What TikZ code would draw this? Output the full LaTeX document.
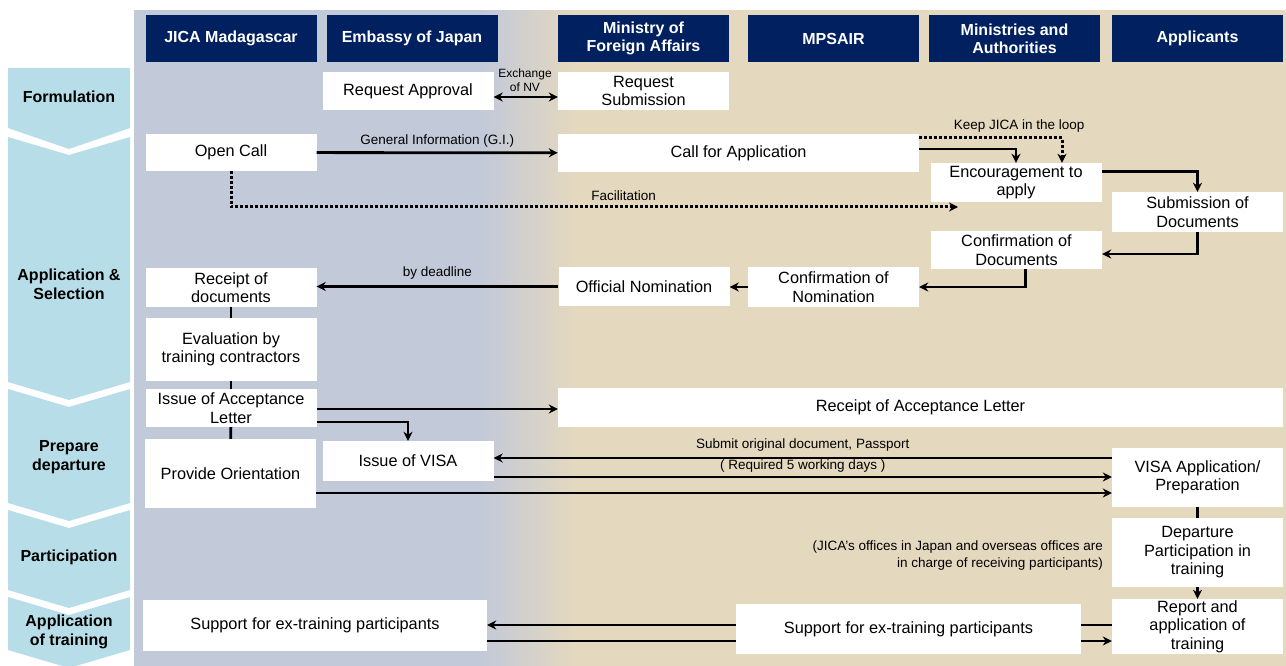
\documentclass[tikz,border=0pt]{standalone}
\usepackage{fontspec}
\setmainfont{Liberation Sans}
\usetikzlibrary{calc,arrows.meta,positioning}

\definecolor{headblue}{RGB}{0,32,96}
\definecolor{phasecyan}{RGB}{183,222,232}
\definecolor{laneblue}{RGB}{194,201,217}
\definecolor{lanetan}{RGB}{228,216,191}

\begin{document}
\begin{tikzpicture}[x=1pt,y=-1pt,inner sep=0pt,>={Stealth[length=9pt,width=9pt]}]
  % Styles
  \tikzset{head/.style={fill=headblue,text=white,font=\bfseries\fontsize{16}{18}\selectfont,align=center,minimum width=171,minimum height=47},
           box/.style={fill=white,font=\fontsize{16.3}{18.5}\selectfont,align=center,minimum width=171,minimum height=38},
           phase/.style={font=\bfseries\fontsize{16}{19}\selectfont,align=center},
           note/.style={font=\fontsize{13.5}{17}\selectfont},
           flow/.style={->,line width=2.8pt},
           link/.style={line width=2.8pt},
           hint/.style={->,line width=3pt,dash pattern=on 2.6pt off 2.4pt}}

  \useasboundingbox (0,0) rectangle (1286,666);

  % Lanes (background), blended by thin strips
  \fill[laneblue] (134,10) rectangle (481,666);
  \foreach \i in {0,...,47}
    \fill[lanetan!\the\numexpr\i*100/47\relax!laneblue] (480+2*\i,10) rectangle (482.6+2*\i,666);
  \fill[lanetan] (575,10) rectangle (1286,666);

  % Phase chevrons
  \fill[phasecyan] (8,68) -- (130,68) -- (130,128) -- (69,149) -- (8,128) -- cycle;
  \foreach \top/\bot in {137/382,389/503,510/590,597/650}
    \fill[phasecyan] (8,\top) -- (69,\top+18) -- (130,\top) -- (130,\bot) -- (69,\bot+18) -- (8,\bot) -- cycle;
  \node[phase] (formulation) at (69,97) {Formulation};
  \node[phase] (selection) at (69,284) {Application \&\\Selection};
  \node[phase] (prepare) at (69,457) {Prepare\\departure};
  \node[phase] (participation) at (69,557) {Participation};
  \node[phase] (applytraining) at (69,632) {Application\\of training};

  % Headers
  \node[head] (jica) at (231,38.5) {JICA Madagascar};
  \node[head] (embassy) at (412,38.5) {Embassy of Japan};
  \node[head] (mofa) at (643.5,38.5) {Ministry of\\Foreign Affairs};
  \node[head] (mpsair) at (833.5,38.5) {MPSAIR};
  \node[head] (ministries) at (1014.5,38.5) {Ministries and\\Authorities};
  \node[head] (applicants) at (1197.5,38.5) {Applicants};

  % Steps
  \node[box] (reqapp) at (408,91) {Request Approval};
  \node[box] (reqsub) at (643.5,91) {Request\\Submission};
  \node[box,minimum height=37] (opencall) at (231,152.5) {Open Call};
  \node[box,minimum width=361] (callapp) at (738.5,153) {Call for Application};
  \node[box,minimum height=39] (encourage) at (1016,182.5) {Encouragement to\\apply};
  \node[box,minimum height=40] (submission) at (1197.5,212) {Submission of\\Documents};
  \node[box] (confdoc) at (1016.5,250) {Confirmation of\\Documents};
  \node[box,minimum height=40] (confnom) at (833.5,287) {Confirmation of\\Nomination};
  \node[box,minimum height=39] (offnom) at (644,286.5) {Official Nomination};
  \node[box,minimum height=39] (receipt) at (231,287.5) {Receipt of\\documents};
  \node[box,minimum height=63] (evaluation) at (231,349.5) {Evaluation by\\training contractors};
  \node[box] (acceptance) at (231,408) {Issue of Acceptance\\Letter};
  \node[box,minimum height=69] (orientation) at (230.5,473.5) {Provide Orientation};
  \node[box,minimum height=40] (visa) at (408,461) {Issue of VISA};
  \node[box,minimum width=725,minimum height=39] (recacc) at (920.5,407.5) {Receipt of Acceptance Letter};
  \node[box,minimum height=59] (visaapp) at (1197.5,477.5) {VISA Application/\\Preparation};
  \node[box,minimum height=69] (departure) at (1197.5,552.5) {Departure\\Participation in\\training};
  \node[box,minimum height=55] (report) at (1197.5,626.5) {Report and\\application of\\training};
  \node[box,minimum width=344,minimum height=51] (supleft) at (315,625.5) {Support for ex-training participants};
  \node[box,minimum width=345,minimum height=50] (supright) at (908.5,629) {Support for ex-training participants};

  \node[note,align=right,anchor=east] (jicanote) at (1103,556) {(JICA's offices in Japan and overseas offices are\\in charge of receiving participants)};

  % Rows for the long horizontal arrows
  \coordinate (rowsubmit) at (0,458);
  \coordinate (rowvisa) at (0,477);
  \coordinate (roworient) at (0,493);
  \coordinate (rowback) at (0,625);
  \coordinate (rowfwd) at (0,641);
  \coordinate (facend) at (958,207);

  % Formulation
  \draw[<->,line width=2.8pt] ($(reqapp.east)+(0,6)$) -- ($(reqsub.west)+(0,6)$);
  \node[font=\fontsize{12}{14}\selectfont,align=center] (nvlabel) at (525,80) {Exchange\\of NV};

  % Application and selection
  \draw[flow] (opencall) -- (callapp) node[midway,above=4pt,note]{General Information (G.I.)};
  \draw[hint] (opencall.south) |- (facend) node[pos=0.77,above=5pt,note]{Facilitation};
  \draw[flow] ($(callapp.east)+(0,-4)$) -| (encourage.north);
  \draw[hint] ($(callapp.east)+(0,-15)$) -| ($(encourage.north)+(46,0)$) node[pos=0.35,above=4pt,note]{Keep JICA in the loop};
  \draw[flow] ($(encourage.east)+(0,-11)$) -| (submission.north);
  \draw[flow] (submission.south) |- ($(confdoc.east)+(0,4)$);
  \draw[flow] ($(confdoc.south)+(9,0)$) |- (confnom.east);
  \draw[flow] (confnom.west) -- (confnom.west -| offnom.east);
  \draw[flow] (offnom.west) -- (offnom.west -| receipt.east) node[midway,above=6pt,note]{by deadline};
  \draw[link] (receipt) -- (evaluation);
  \draw[link] (evaluation) -- (acceptance);
  \draw[link] (acceptance) -- (orientation);

  % Prepare departure
  \draw[flow] ($(acceptance.east)+(0,1)$) -- ($(acceptance.east -| recacc.west)+(0,1)$);
  \draw[flow] ($(acceptance.east)+(0,14)$) -| (visa.north);
  \draw[flow] (visaapp.west |- rowsubmit) -- (visa.east |- rowsubmit) node[midway,above=5pt,note]{Submit original document, Passport};
  \draw[flow] (visa.east |- rowvisa) -- (visaapp.west |- rowvisa) node[midway,above=3pt,note]{( Required 5 working days )};
  \draw[flow] (orientation.east |- roworient) -- (visaapp.west |- roworient);

  % Participation and application
  \draw[link] (visaapp) -- (departure);
  \draw[flow] (departure) -- (report);
  \draw[link] (report.west |- rowback) -- (supright.east |- rowback);
  \draw[flow] (supright.west |- rowback) -- (supleft.east |- rowback);
  \draw[link] (supleft.east |- rowfwd) -- (supright.west |- rowfwd);
  \draw[flow] (supright.east |- rowfwd) -- (report.west |- rowfwd);
\end{tikzpicture}
\end{document}
